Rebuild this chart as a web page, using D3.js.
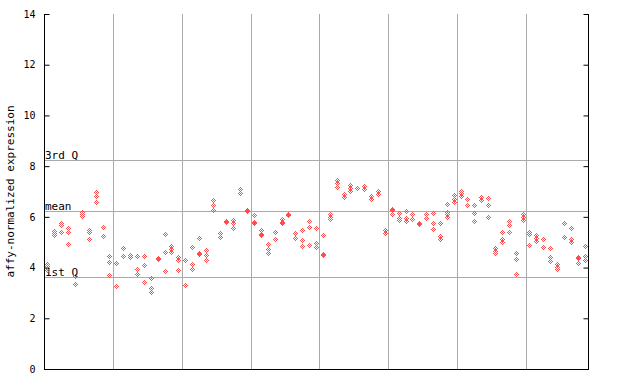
<!DOCTYPE html>
<html>
<head>
<meta charset="utf-8">
<script src="https://cdn.jsdelivr.net/npm/d3@7"></script>
<style>
  body { margin: 0; background: #fff; }
  svg { display: block; }
  text { font-family: "DejaVu Sans Mono", monospace; fill: #000; }
</style>
</head>
<body>
<svg id="chart"></svg>
<script>
// expression values per sample (replicates)
const expression = [
  [4.15, 4.05, 3.9], [5.45, 5.35, 5.28], [5.75, 5.67, 5.4], [5.58, 5.42, 4.92],
  [3.65, 3.37, 3.35], [6.2, 6.12, 6.05], [5.5, 5.4, 5.12], [7.0, 6.83, 6.57],
  [5.6, 5.23], [4.45, 4.23, 3.7],
  [4.2, 4.18, 3.26], [4.76, 4.46], [4.48, 4.42], [4.46, 3.94, 3.73],
  [4.46, 4.1, 3.42], [3.58, 3.2, 3.04], [4.38, 4.35], [5.31, 4.6, 3.85],
  [4.85, 4.74, 4.63], [4.4, 4.3, 3.9],
  [4.3, 4.28, 3.3], [4.8, 4.15, 3.96], [5.15, 4.56, 4.52], [4.69, 4.51, 4.3],
  [6.66, 6.47, 6.26], [5.38, 5.22, 5.2], [5.82, 5.78], [5.88, 5.74, 5.55],
  [7.1, 6.96, 6.94], [6.27, 6.25],
  [6.07, 5.78, 5.76], [5.48, 5.32, 5.3], [4.93, 4.74, 4.56], [5.4, 5.11],
  [5.9, 5.78, 5.76], [6.13, 6.09], [5.38, 5.17, 5.15], [5.47, 5.07, 4.85],
  [5.82, 5.6, 4.88], [5.55, 4.96, 4.8],
  [5.27, 4.52, 4.5], [6.11, 6.01, 5.9], [7.44, 7.35, 7.19], [6.89, 6.77],
  [7.26, 7.13, 7.01], [7.15, 7.12], [7.22, 7.1], [6.84, 6.7],
  [7.01, 6.92], [5.48, 5.38],
  [6.31, 6.28, 6.1], [6.14, 5.94, 5.86], [6.24, 5.94, 5.85], [6.11, 5.93, 5.91],
  [5.76, 5.72], [6.13, 6.1, 5.97], [6.14, 5.74, 5.51], [5.74, 5.24, 5.14],
  [6.5, 6.19, 6.1, 5.99], [6.85, 6.72, 6.6],
  [7.03, 6.93, 6.84], [6.7, 6.45], [6.45, 6.14, 5.85], [6.8, 6.66],
  [6.74, 6.45, 5.98], [4.76, 4.65, 4.56], [5.4, 5.11, 5.01], [5.84, 5.67, 5.4],
  [4.56, 4.33, 3.73], [6.1, 5.98, 5.86],
  [5.4, 5.32, 4.88], [5.27, 5.17, 5.04], [5.11, 4.82, 4.8], [4.76, 4.4, 4.25],
  [4.13, 4.04, 3.96], [5.74, 5.19], [5.55, 5.11, 5.02], [4.4, 4.37, 4.17],
  [4.84, 4.46, 4.3]
];
const samples = expression.map((d, i) => i);
const yTicks = [0, 2, 4, 6, 8, 10, 12, 14];
const refValues = [8.23, 6.23, 3.63];
const refLabels = ["3rd Q", "mean", "1st Q"];
const groupSize = 10;

const width = 640, height = 384;
const margin = { top: 14, left: 44, right: 52, bottom: 15 };
const red = "#ff4c4c";
const grey = "#aaaaaa";

const svg = d3.select("#chart")
  .attr("width", width)
  .attr("height", height);

const x = d3.scaleBand()
  .domain(samples)
  .range([margin.left, width - margin.right]);

const y = d3.scaleLinear()
  .domain([0, 14])
  .range([height - margin.bottom, margin.top]);

// vertical separators every 10 samples
const seps = samples.filter(i => i > 0 && i % groupSize === 0);
svg.append("g")
  .selectAll("line")
  .data(seps)
  .join("line")
    .attr("x1", d => Math.round(x(d)) + 0.5)
    .attr("x2", d => Math.round(x(d)) + 0.5)
    .attr("y1", y(14))
    .attr("y2", y(0))
    .attr("stroke", grey);

// reference lines
svg.append("g")
  .selectAll("line")
  .data(refValues)
  .join("line")
    .attr("x1", margin.left)
    .attr("x2", width - margin.right)
    .attr("y1", d => Math.round(y(d)) + 0.5)
    .attr("y2", d => Math.round(y(d)) + 0.5)
    .attr("stroke", grey);

svg.append("g")
  .selectAll("text")
  .data(refValues)
  .join("text")
    .attr("x", margin.left + 1)
    .attr("y", d => Math.round(y(d)) - 1)
    .style("font-size", "11px")
    .text((d, i) => refLabels[i]);

// axes
const yAxisL = d3.axisLeft(y).tickValues(yTicks).tickSize(-5).tickPadding(9);
const yAxisR = d3.axisRight(y).tickValues(yTicks).tickSize(-5).tickFormat("");

svg.append("g")
  .attr("transform", `translate(${margin.left + 0.5},0)`)
  .call(yAxisL)
  .call(g => g.select(".domain").attr("d", `M0,${y(14)}V${y(0)}`))
  .call(g => g.selectAll("text").style("font-size", "10px").style("font-family", "DejaVu Sans Mono"));

svg.append("g")
  .attr("transform", `translate(${width - margin.right + 0.5},0)`)
  .call(yAxisR)
  .call(g => g.select(".domain").attr("d", `M0,${y(14)}V${y(0)}`));

svg.append("line")
  .attr("x1", margin.left)
  .attr("x2", width - margin.right + 1)
  .attr("y1", Math.round(y(0)) + 0.5)
  .attr("y2", Math.round(y(0)) + 0.5)
  .attr("stroke", "#000");

svg.append("text")
  .attr("transform", `translate(14,${(y(0) + y(14)) / 2}) rotate(-90)`)
  .attr("text-anchor", "middle")
  .style("font-size", "11px")
  .text("affy-normalized expression");

// checkered diamond marker
const markerPix = [];
for (let dx = -2; dx <= 2; dx++)
  for (let dy = -2; dy <= 2; dy++)
    if (Math.abs(dx) + Math.abs(dy) <= 2 && (dx + dy) % 2 === 0) markerPix.push([dx, dy]);

const points = [];
expression.forEach((vals, i) => vals.forEach(v => points.push({ i, v })));

const pts = svg.append("g")
  .attr("shape-rendering", "crispEdges")
  .selectAll("g")
  .data(points)
  .join("g")
    .attr("transform", d => `translate(${Math.round(x(d.i) + x.bandwidth() / 2)},${Math.round(y(d.v))})`);

pts.selectAll("rect")
  .data(markerPix)
  .join("rect")
    .attr("x", d => d[0])
    .attr("y", d => d[1])
    .attr("width", 1)
    .attr("height", 1)
    .attr("fill", red);
</script>
</body>
</html>
